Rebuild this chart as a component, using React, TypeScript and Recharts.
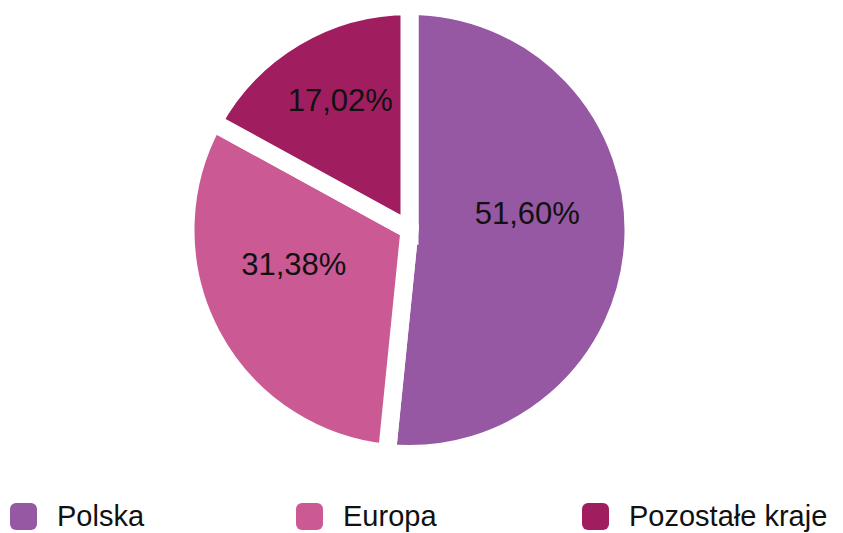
import React from 'react';
import { PieChart, Pie, Cell, Legend } from 'recharts';

const regions = ['Polska', 'Europa', 'Pozostałe kraje'];
const shares = [51.6, 31.38, 17.02];
const colors = ['#9657A3', '#CA5994', '#A01E60'];

const data = regions.map((name, i) => ({ name, value: shares[i] }));

const RAD = Math.PI / 180;
const FONT = '"Liberation Sans", Arial, sans-serif';

const formatPct = (v: number) => `${v.toFixed(2).replace('.', ',')}%`;

// label sits a bit above/left of the mid-angle point, like the original
const renderLabel = (props: any) => {
  const { cx, cy, midAngle, value } = props;
  const r = 124;
  const x = cx + r * Math.cos(-midAngle * RAD) - 6;
  const y = cy + r * Math.sin(-midAngle * RAD) - 23;
  return (
    <text
      x={x}
      y={y}
      textAnchor="middle"
      dominantBaseline="central"
      fill="#111"
      style={{ fontSize: 31, fontFamily: FONT }}
    >
      {formatPct(value)}
    </text>
  );
};

const LegendContent = (props: any) => {
  const items = [...(props.payload || [])].sort(
    (a: any, b: any) => regions.indexOf(a.value) - regions.indexOf(b.value)
  );
  return (
    <div style={{ display: 'flex', fontFamily: FONT }}>
      {items.map((entry: any, i: number) => (
        <div
          key={`legend-${i}`}
          style={{ width: 286, height: 32, display: 'flex', alignItems: 'center', flexShrink: 0 }}
        >
          <span
            style={{
              width: 27,
              height: 27,
              borderRadius: 6,
              background: entry.color,
              display: 'inline-block',
              marginRight: 20,
            }}
          />
          <span style={{ fontSize: 29, lineHeight: '32px', color: '#111', whiteSpace: 'nowrap' }}>
            {entry.value}
          </span>
        </div>
      ))}
    </div>
  );
};

export default function App() {
  return (
    <div
      style={{
        position: 'fixed',
        left: 0,
        top: 0,
        width: 843,
        height: 533,
        overflow: 'hidden',
        background: '#fff',
      }}
    >
      <PieChart width={843} height={533} margin={{ top: 0, right: 0, bottom: 0, left: 0 }}>
        <Pie
          data={data}
          dataKey="value"
          nameKey="name"
          cx={409.5}
          cy={230}
          outerRadius={224}
          startAngle={90}
          endAngle={-270}
          stroke="#fff"
          strokeWidth={18}
          label={renderLabel}
          labelLine={false}
          isAnimationActive={false}
        >
          {data.map((entry, i) => (
            <Cell key={`cell-${i}`} fill={colors[i]} />
          ))}
        </Pie>
        <Legend
          content={<LegendContent />}
          itemSorter={null as any}
          wrapperStyle={{ top: 500, left: 10, width: 860 }}
        />
      </PieChart>
    </div>
  );
}
